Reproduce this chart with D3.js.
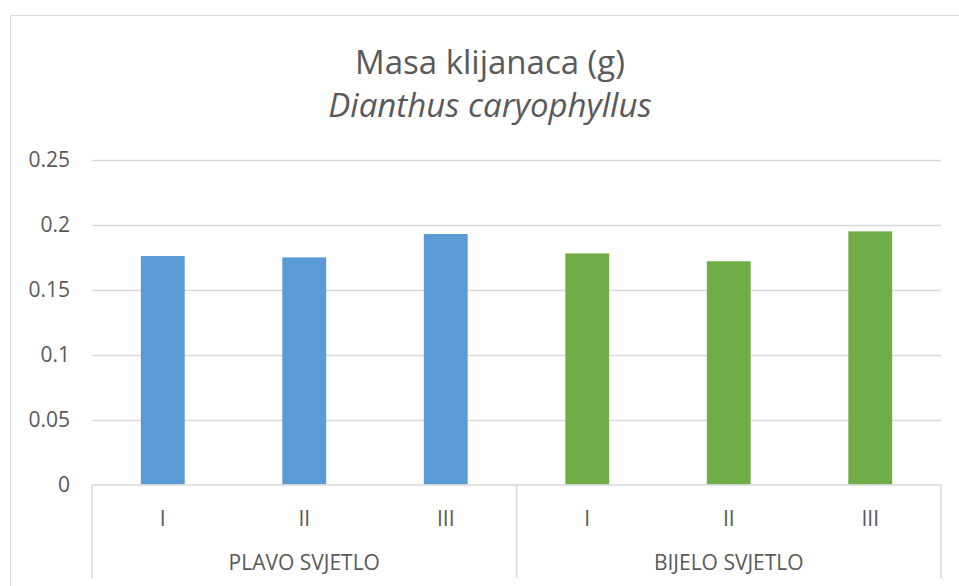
<!DOCTYPE html>
<html>
<head>
<meta charset="utf-8">
<script src="https://cdn.jsdelivr.net/npm/d3@7"></script>
<style>
  html, body { margin: 0; padding: 0; background: #fff; }
  svg { display: block; }
  text { font-family: "Open Sans", "Noto Sans", sans-serif; fill: #595959; }
</style>
</head>
<body>
<svg id="chart" width="959" height="586"></svg>
<script>
const titleText = "Masa klijanaca (g)";
const subtitleText = "Dianthus caryophyllus";
const groups = ["PLAVO SVJETLO", "BIJELO SVJETLO"];
const categories = ["I", "II", "III"];
const plavoValues = [0.176, 0.175, 0.193];
const bijeloValues = [0.178, 0.172, 0.195];
const groupColors = ["#5B9BD5", "#70AD47"];
const yTicks = [0, 0.05, 0.1, 0.15, 0.2, 0.25];
const yTickLabels = ["0", "0.05", "0.1", "0.15", "0.2", "0.25"];

const seriesValues = [plavoValues, bijeloValues];
const rows = [];
groups.forEach((g, gi) => categories.forEach((c, ci) => {
  rows.push({ group: g, gi, cat: c, key: g + "|" + c, value: seriesValues[gi][ci] });
}));

const svg = d3.select("#chart");
const W = 959, H = 586;
const plot = { left: 92, right: 941, top: 160, bottom: 484.5 };

// chart frame
svg.append("rect").attr("x", 10.5).attr("y", 15.5).attr("width", W + 20).attr("height", H + 20)
  .attr("fill", "#fff").attr("stroke", "#D9D9D9").attr("stroke-width", 1);

const x = d3.scaleBand().domain(rows.map(r => r.key)).range([plot.left, plot.right])
  .paddingInner(0.69).paddingOuter(0.345);
const xg = d3.scaleBand().domain(groups).range([plot.left, plot.right]);
const y = d3.scaleLinear().domain([0, 0.25]).range([plot.bottom, plot.top]);

// gridlines
svg.append("g").selectAll("line").data(yTicks.filter(t => t > 0)).join("line")
  .attr("x1", plot.left).attr("x2", plot.right)
  .attr("y1", d => Math.round(y(d)) + 0.5).attr("y2", d => Math.round(y(d)) + 0.5)
  .attr("stroke", "#D9D9D9").attr("stroke-width", 1.5);

// y axis labels
const yAxis = d3.axisLeft(y).tickValues(yTicks).tickSize(0).tickPadding(0)
  .tickFormat((d, i) => yTickLabels[i]);
const yG = svg.append("g").attr("transform", `translate(${plot.left - 22},0)`).call(yAxis);
yG.select(".domain").remove();
yG.selectAll("text").style("font-size", "21px").style("font-family", "'Open Sans', sans-serif")
  .attr("fill", "#595959");

// bars
svg.append("g").selectAll("rect").data(rows).join("rect")
  .attr("x", d => x(d.key)).attr("width", x.bandwidth())
  .attr("y", d => y(d.value)).attr("height", d => y(0) - y(d.value))
  .attr("fill", d => groupColors[d.gi]);

// category axis
const axisBottom = 578;
const ax = svg.append("g").attr("stroke", "#D9D9D9").attr("stroke-width", 1.5);
ax.append("line").attr("x1", plot.left).attr("x2", plot.right).attr("y1", plot.bottom + 0.5).attr("y2", plot.bottom + 0.5);
const dividers = [plot.left, xg(groups[1]), plot.right];
ax.selectAll("line.div").data(dividers).join("line").attr("class", "div")
  .attr("x1", d => d).attr("x2", d => d).attr("y1", plot.bottom).attr("y2", axisBottom);

svg.append("g").selectAll("text").data(rows).join("text")
  .attr("x", d => x(d.key) + x.bandwidth() / 2).attr("y", 526)
  .attr("text-anchor", "middle").style("font-size", "21px").text(d => d.cat);

svg.append("g").selectAll("text").data(groups).join("text")
  .attr("x", d => xg(d) + xg.bandwidth() / 2).attr("y", 570)
  .attr("text-anchor", "middle").style("font-size", "21px").text(d => d);

// titles
svg.append("text").attr("x", 490).attr("y", 74).attr("text-anchor", "middle")
  .style("font-size", "33px").text(titleText);
svg.append("text").attr("x", 490).attr("y", 117).attr("text-anchor", "middle")
  .style("font-size", "33px").style("font-style", "italic").text(subtitleText);
</script>
</body>
</html>
